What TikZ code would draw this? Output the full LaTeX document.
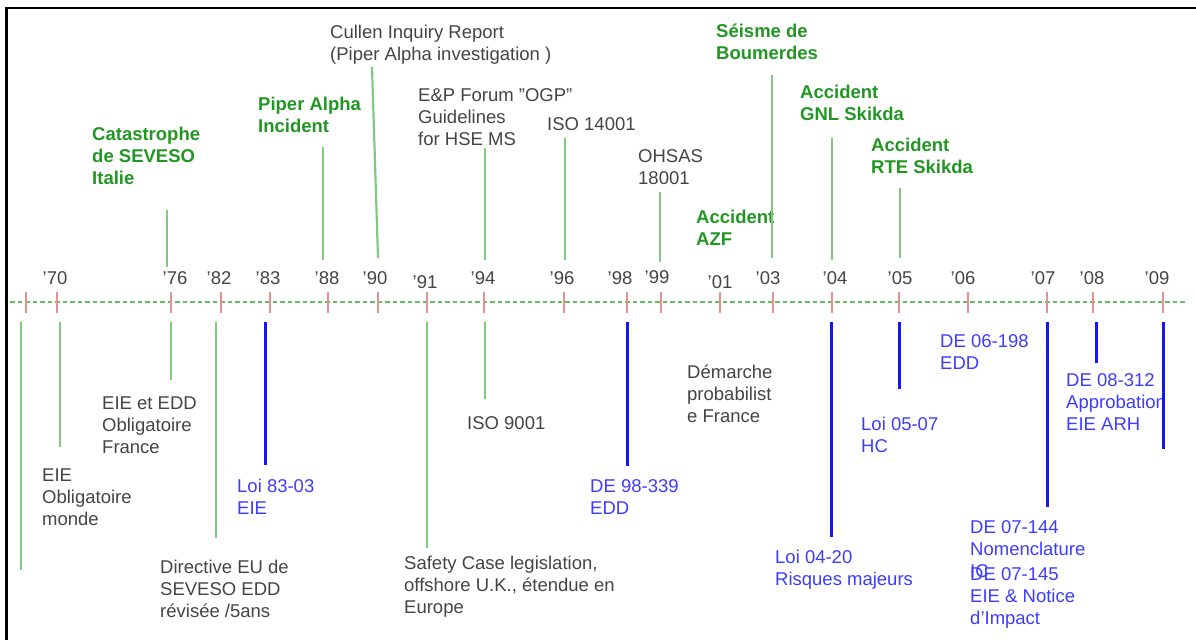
\documentclass[tikz,border=0pt]{standalone}
\usepackage{fontspec}
\setmainfont{Liberation Sans}
\begin{document}
\definecolor{notegray}{RGB}{68,68,68}
\definecolor{evgreen}{RGB}{34,150,34}
\definecolor{lawblue}{RGB}{60,60,255}
\definecolor{lgreen}{RGB}{130,200,130}
\definecolor{lblue}{RGB}{20,20,255}
\definecolor{axisgreen}{RGB}{100,190,100}
\definecolor{tickred}{RGB}{228,145,145}
\tikzset{
  lbl/.style={anchor=north west, inner sep=0pt, align=left, font=\fontsize{18.5}{22}\selectfont},
  note/.style={lbl, text=notegray},
  event/.style={lbl, text=evgreen, font=\fontsize{18.5}{22}\selectfont\bfseries},
  law/.style={lbl, text=lawblue},
  year/.style={anchor=base, inner sep=0pt, text=notegray, font=\fontsize{18.5}{22}\selectfont},
  gline/.style={draw=lgreen, line width=2.2pt},
  bline/.style={draw=lblue, line width=3pt},
  tickmark/.style={draw=tickred, line width=2pt},
  axisline/.style={draw=axisgreen, line width=2pt, dash pattern=on 4.5pt off 3pt},
  frameline/.style={draw=black, line width=2.5pt},
}
\begin{tikzpicture}[x=1pt, y=-1pt]
\useasboundingbox (0,0) rectangle (1196,640);

% frame (left and top edges)
\coordinate (fbl) at (6.5,640);
\coordinate (ftl) at (6.5,8);
\coordinate (ftr) at (1196,8);
\draw[frameline] (fbl) -- (ftl) -- (ftr);

% time axis
\coordinate (axL) at (10,302);
\coordinate (axR) at (1186,302);
\draw[axisline] (axL) -- (axR);

% tick marks on the axis
\foreach \x [count=\i] in {26,57,171,221,270,328,378,427,484,564,627,661,720,773,832,899,968,1047,1093,1163}{
  \coordinate (t\i a) at (\x,292);
  \coordinate (t\i b) at (\x,313);
  \draw[tickmark] (t\i a) -- (t\i b);
}

% year labels
\foreach \x/\c/\yr in {55/278/70,175/278/76,219/278/82,268/278/83,327/278/88,375/278/90,
  425/282/91,483/278/94,562/278/96,620/278/98,657/277/99,720/282/01,768/278/03,
  835/278/04,900/278/05,963/278/06,1043/278/07,1092/278/08,1157/278/09}{
  \node[year] (y\yr) at (\x,\c+6.6) {'\yr};
}

% events above the axis
\node[note]  (cullen)  at (330,23)  {\strut Cullen Inquiry Report\\(Piper Alpha investigation )};
\node[event] (seveso)  at (92,125)  {\strut Catastrophe\\de SEVESO\\Italie};
\node[event] (piper)   at (258,95)  {\strut Piper Alpha\\Incident};
\node[note]  (ogp)     at (418,86)  {\strut E\&P Forum "OGP"\\Guidelines\\for HSE MS};
\node[note]  (iso14)   at (547,115) {\strut ISO 14001};
\node[note]  (ohsas)   at (638,147) {\strut OHSAS\\18001};
\node[event] (azf)     at (696,208) {\strut Accident\\AZF};
\node[event] (seisme)  at (716,22)  {\strut Séisme de\\Boumerdes};
\node[event] (gnl)     at (800,83)  {\strut Accident\\GNL Skikda};
\node[event] (rte)     at (871,136) {\strut Accident\\RTE Skikda};

% texts below the axis
\node[note] (monde)    at (42,466)  {\strut EIE\\Obligatoire\\monde};
\node[note] (france)   at (102,394) {\strut EIE et EDD\\Obligatoire\\France};
\node[note] (directive) at (160,558) {\strut Directive EU de\\SEVESO EDD\\révisée /5ans};
\node[law]  (loi83)    at (237,477) {\strut Loi 83-03\\EIE};
\node[note] (safety)   at (404,554) {\strut Safety Case legislation,\\offshore U.K., étendue en\\Europe};
\node[note] (iso9)     at (467,414) {\strut ISO 9001};
\node[law]  (de98)     at (590,477) {\strut DE 98-339\\EDD};
\node[note] (demarche) at (687,363) {\strut Démarche\\probabilist\\e France};
\node[law]  (loi04)    at (775,548) {\strut Loi 04-20\\Risques majeurs};
\node[law]  (loi05)    at (861,415) {\strut Loi 05-07\\HC};
\node[law]  (de06)     at (940,332) {\strut DE 06-198\\EDD};
\node[law]  (de07a)    at (970,518) {\strut DE 07-144\\Nomenclature\\IC};
\node[law]  (de07b)    at (970,565) {\strut DE 07-145\\EIE \& Notice\\d'Impact};
\node[law]  (de08)     at (1066,371) {\strut DE 08-312\\Approbation\\EIE ARH};

% stems above the axis
\foreach \xa/\ya/\xb/\yb/\n in {167/210/167/267/u76, 323/147/323/260/u88, 372/67/378/258/u90,
  485/148/485/260/u94, 565/138/565/260/u96, 660/192/660/262/u99, 772/75/772/258/u03,
  832/138/832/260/u04, 900/188/900/258/u05}{
  \coordinate (\n a) at (\xa,\ya);
  \coordinate (\n b) at (\xb,\yb);
  \draw[gline] (\n a) -- (\n b);
}

% stems below the axis: international / French milestones (green)
\foreach \x/\y/\n in {21/570/d1, 60/447/d2, 171/380/d3, 216/538/d4, 427/548/d5, 485/399/d6}{
  \coordinate (\n a) at (\x,322);
  \coordinate (\n b) at (\x,\y);
  \draw[gline] (\n a) -- (\n b);
}

% stems below the axis: Algerian texts (blue)
\foreach \x/\y/\n in {265/465/b1, 627/466/b2, 831/537/b3, 899/389/b4, 1047/507/b5, 1096/363/b6, 1163/449/b7}{
  \coordinate (\n a) at (\x,322);
  \coordinate (\n b) at (\x,\y);
  \draw[bline] (\n a) -- (\n b);
}
\end{tikzpicture}
\end{document}
